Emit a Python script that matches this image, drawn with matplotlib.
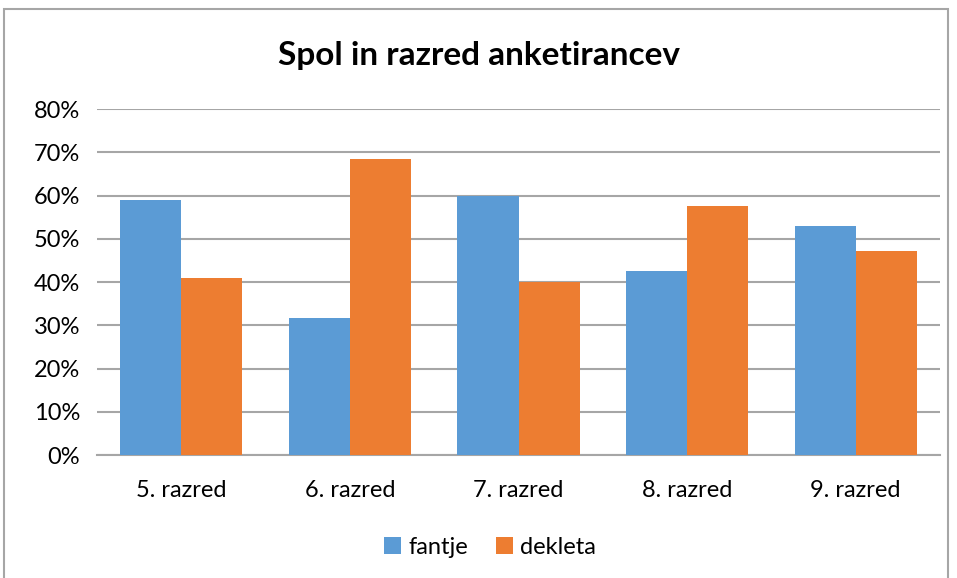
import matplotlib.pyplot as plt
import numpy as np
from matplotlib.patches import Rectangle

razredi = ['5. razred', '6. razred', '7. razred', '8. razred', '9. razred']
fantje = [59.0, 31.6, 60.0, 42.5, 52.9]
dekleta = [41.0, 68.4, 40.0, 57.5, 47.1]
y_ticks = [0, 10, 20, 30, 40, 50, 60, 70, 80]

plt.rcParams['font.family'] = ['Lato', 'DejaVu Sans']

fig = plt.figure(figsize=(9.57, 5.78), dpi=100)
ax = fig.add_axes([0.1014, 0.2128, 0.8808, 0.5986])

# okvir grafa
fig.patches.append(Rectangle((4 / 957, -0.01), 944 / 957, 1 - 9 / 578 + 0.01,
                             transform=fig.transFigure, fill=False,
                             edgecolor='#a6a6a6', linewidth=1.5))

x = np.arange(len(razredi))
w = 0.362
ax.bar(x - w / 2, fantje, w, color='#5b9bd5', label='fantje', zorder=3)
ax.bar(x + w / 2, dekleta, w, color='#ed7d31', label='dekleta', zorder=3)

ax.set_xlim(-0.5, len(razredi) - 0.5)
ax.set_ylim(0, 80)
ax.set_yticks(y_ticks)
ax.set_yticklabels([f'{v}%' for v in y_ticks])
ax.set_xticks(x)
ax.set_xticklabels(razredi)
ax.tick_params(length=0, labelsize=17, colors='#000000')
ax.tick_params(axis='x', pad=18)
ax.tick_params(axis='y', pad=12)
ax.grid(axis='y', color='#a6a6a6', linewidth=1.5, zorder=0)
for s in ['top', 'right', 'left']:
    ax.spines[s].set_visible(False)
ax.spines['bottom'].set_color('#a6a6a6')
ax.spines['bottom'].set_linewidth(1.5)

fig.text(0.5, 1 - 55 / 578, 'Spol in razred anketirancev', ha='center',
         va='center', fontsize=24, fontweight='bold')

fig.legend(loc='center', bbox_to_anchor=(0.512, 1 - 547 / 578), ncol=2,
           frameon=False, fontsize=17, handlelength=0.7, handleheight=0.7,
           handletextpad=0.3, columnspacing=1.2)

plt.savefig('out.png', dpi=100)
